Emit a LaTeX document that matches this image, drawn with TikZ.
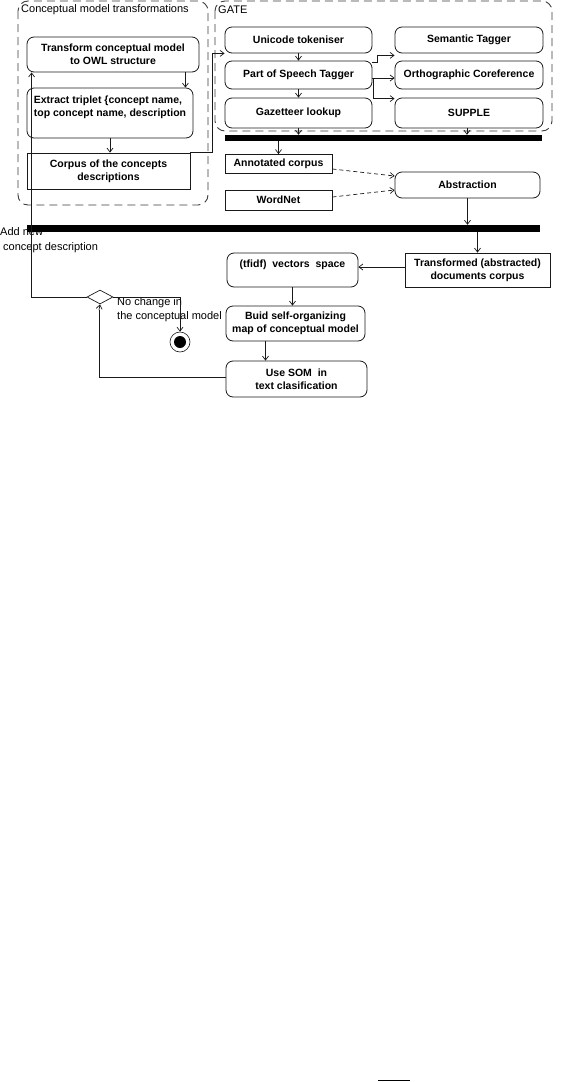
\documentclass[tikz,border=0pt]{standalone}
\usepackage{fontspec}
\setmainfont{Liberation Sans}
\usepackage{tikz}
\usetikzlibrary{shapes.geometric, arrows.meta, positioning, calc}
\definecolor{myink}{RGB}{25,25,25}
\definecolor{mygrey}{RGB}{60,60,60}
\tikzset{
  activity/.style={rectangle, draw=myink, rounded corners=7pt, line width=0.8pt,
    font=\bfseries\fontsize{10.5}{13}\selectfont, align=center, inner sep=0pt},
  objbox/.style={rectangle, draw=myink, line width=0.8pt,
    font=\bfseries\fontsize{10.5}{13}\selectfont, align=center, inner sep=0pt},
  syncbar/.style={rectangle, fill=black, inner sep=0pt},
  grpbox/.style={draw=mygrey, dash pattern=on 8pt off 5pt, rounded corners=10pt, line width=0.9pt},
  plaintext/.style={font=\fontsize{11}{13.5}\selectfont, align=left, inner sep=0pt},
  arrow/.style={-{Straight Barb[length=4pt,width=6pt]}, line width=0.7pt, color=myink},
  dasharrow/.style={arrow, dash pattern=on 4pt off 3pt},
  decision/.style={diamond, draw=myink, line width=0.7pt, inner sep=0pt, aspect=1.9}
}
\begin{document}
\begin{tikzpicture}[x=1pt, y=-1pt]
  \useasboundingbox (0,0) rectangle (568,1082);
  % ── Conceptual model transformations ──
  \draw[grpbox] (18,1) rectangle (208,205);
  \node[plaintext, anchor=west] (cmtitle) at (21,10) {Conceptual model transformations};
  \node[activity, minimum width=172pt, minimum height=35pt] (trans) at (113,54.5)
    {Transform conceptual model\\to OWL structure};
  \node[activity, minimum width=166pt, minimum height=50pt, align=left] (extr) at (110,113)
    {Extract triplet \{concept name,\\top concept name, description\\~};
  \node[objbox, minimum width=163pt, minimum height=36pt] (corp) at (108.5,171)
    {Corpus of the concepts\\descriptions};
  % ── GATE ──
  \draw[grpbox] (215,1) rectangle (552,131);
  \node[plaintext, anchor=west] (gatetitle) at (218,10) {GATE};
  \node[activity, minimum width=147pt, minimum height=26pt] (uni) at (298.5,40) {Unicode tokeniser};
  \node[activity, minimum width=147pt, minimum height=28pt] (pos) at (298.5,75) {Part of Speech Tagger};
  \node[activity, minimum width=147pt, minimum height=30pt] (gaz) at (298.5,113) {Gazetteer lookup};
  \node[activity, minimum width=148pt, minimum height=26pt] (sem) at (469,40) {Semantic Tagger};
  \node[activity, minimum width=148pt, minimum height=28pt] (orth) at (469,75) {Orthographic Coreference};
  \node[activity, minimum width=148pt, minimum height=30pt] (sup) at (469,113) {SUPPLE};
  % ── Bars and abstraction ──
  \node[syncbar, minimum width=317pt, minimum height=6pt] (bar1) at (383.5,138) {};
  \node[objbox, minimum width=107pt, minimum height=19pt] (ann) at (278.5,164) {Annotated corpus};
  \node[objbox, minimum width=107pt, minimum height=20pt] (wn) at (278.5,200) {WordNet};
  \node[activity, minimum width=145pt, minimum height=26pt] (abs) at (467.5,185) {Abstraction};
  \node[syncbar, minimum width=513pt, minimum height=7pt] (bar2) at (283.5,228.5) {};
  % ── SOM part ──
  \node[objbox, minimum width=145pt, minimum height=34pt] (tdc) at (477.5,270)
    {Transformed (abstracted)\\documents corpus};
  \node[activity, minimum width=131pt, minimum height=34pt] (tfidf) at (292.5,270)
    {(tfidf)~ vectors~ space\\~};
  \node[activity, minimum width=139pt, minimum height=35pt] (som) at (295.5,323.5)
    {Buid self-organizing\\map of conceptual model};
  \node[activity, minimum width=141pt, minimum height=36pt] (use) at (296.5,379)
    {Use SOM~ in\\text clasification};
  \node[decision, minimum width=26pt, minimum height=14pt] (dec) at (100,297) {};
  \node[circle, draw=myink, line width=0.6pt, minimum size=20pt, inner sep=0pt] (fin) at (180,342) {};
  \fill[black] (fin.center) circle (6pt);
  % labels
  \node[plaintext, anchor=west, font=\fontsize{11}{15}\selectfont] (addlbl) at (0,240.5)
    {Add new\\\hspace*{3pt}concept description};
  \node[plaintext, anchor=west] (nochlbl) at (117,309.5) {No change in\\the conceptual model};
  % ── Connectors ──
  \draw[arrow] ([xshift=-14pt]trans.south east) -- ([xshift=-8pt]extr.north east);
  \draw[arrow] (extr.south) -- (extr.south |- corp.north);
  \draw[arrow] (corp.north east) -- ++(22,0) |- (uni.south west);
  \draw[arrow] (dec.west) -| ([xshift=5pt]trans.south west);
  \draw[arrow] (uni.south) -- (pos.north);
  \draw[arrow] (pos.south) -- (gaz.north);
  \draw[arrow] ([yshift=-2pt]pos.north east) -- ++(5,0) |- ([yshift=-2pt]sem.south west);
  \draw[arrow] ([yshift=-3pt]pos.east) -- ([yshift=-3pt]orth.west);
  \draw[arrow] ([yshift=-3pt]pos.east) -- ++(1,0) |- ([yshift=-1pt]sup.north west);
  \draw[arrow] (gaz.south) -- (gaz.south |- bar1.north);
  \draw[arrow] ([xshift=-2pt]sup.south) -- ([xshift=-2pt]sup.south |- bar1.north);
  \draw[arrow] (bar1.south -| ann.north) -- (ann.north);
  \draw[dasharrow] ([yshift=-5pt]ann.east) -- ([yshift=9pt]abs.west);
  \draw[dasharrow] ([yshift=3pt]wn.east) -- ([yshift=-5pt]abs.west);
  \draw[arrow] (abs.south) -- (abs.south |- bar2.north);
  \draw[arrow] (bar2.south -| tdc.north) -- (tdc.north);
  \draw[arrow] ([yshift=3pt]tdc.west) -- ([yshift=3pt]tfidf.east);
  \draw[arrow] (tfidf.south) -- (tfidf.south |- som.north);
  \draw[arrow] ([xshift=-30pt]som.south) -- ([xshift=-30pt]som.south |- use.north);
  \draw[line width=0.7pt, color=myink] ([yshift=2pt]use.west) -| (99,310);
  \draw[arrow] (99,310) -- (dec.south);
  \draw[arrow] (dec.east) -| (fin.north);
  % stray mark at page foot
  \draw[line width=1.3pt] (378,1080.5) -- (410,1080.5);
\end{tikzpicture}
\end{document}
